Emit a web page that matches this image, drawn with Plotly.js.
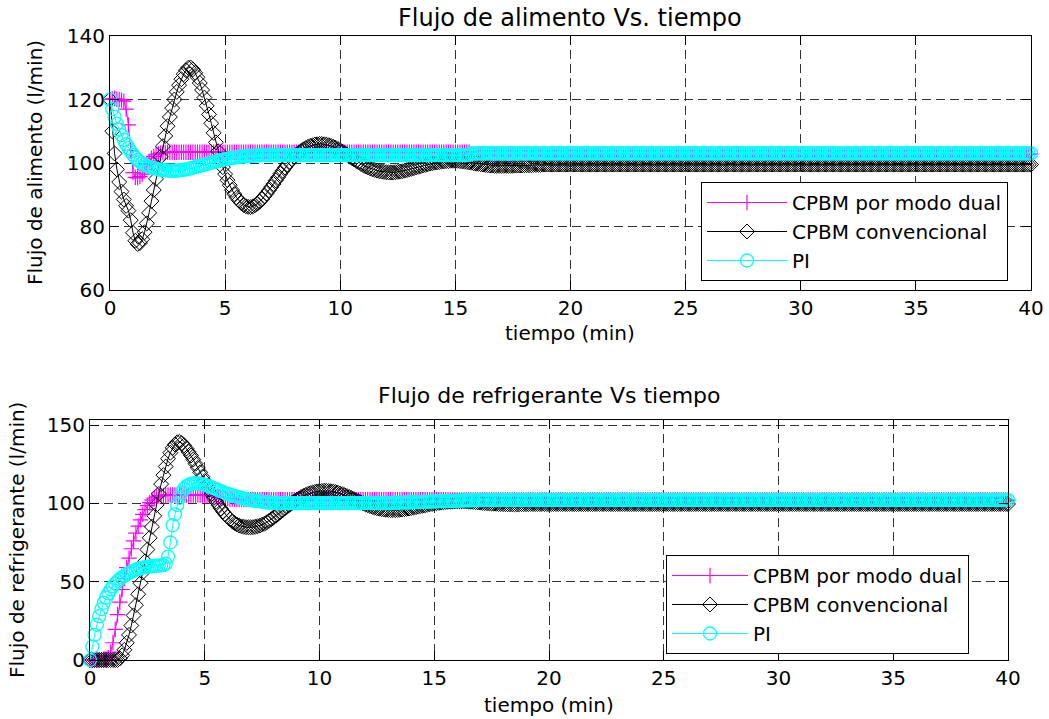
<!DOCTYPE html>
<html>
<head>
<meta charset="utf-8">
<script src="https://cdn.plot.ly/plotly-3.0.1.min.js"></script>
<style>html,body{margin:0;padding:0;background:#fff;}#chart{width:1049px;height:719px;}</style>
</head>
<body>
<div id="chart"></div>
<script>
// time samples (min)
const tiempo = [
0,0.1,0.2,0.3,0.4,0.5,0.6,0.7,0.8,0.9,
1,1.1,1.2,1.3,1.4,1.5,1.6,1.7,1.8,1.9,
2,2.1,2.2,2.3,2.4,2.5,2.6,2.7,2.8,2.9,
3,3.1,3.2,3.3,3.4,3.5,3.6,3.7,3.8,3.9,
4,4.1,4.2,4.3,4.4,4.5,4.6,4.7,4.8,4.9,
5,5.1,5.2,5.3,5.4,5.5,5.6,5.7,5.8,5.9,
6,6.1,6.2,6.3,6.4,6.5,6.6,6.7,6.8,6.9,
7,7.1,7.2,7.3,7.4,7.5,7.6,7.7,7.8,7.9,
8,8.1,8.2,8.3,8.4,8.5,8.6,8.7,8.8,8.9,
9,9.1,9.2,9.3,9.4,9.5,9.6,9.7,9.8,9.9,
10,10.1,10.2,10.3,10.4,10.5,10.6,10.7,10.8,10.9,
11,11.1,11.2,11.3,11.4,11.5,11.6,11.7,11.8,11.9,
12,12.1,12.2,12.3,12.4,12.5,12.6,12.7,12.8,12.9,
13,13.1,13.2,13.3,13.4,13.5,13.6,13.7,13.8,13.9,
14,14.1,14.2,14.3,14.4,14.5,14.6,14.7,14.8,14.9,
15,15.1,15.2,15.3,15.4,15.5,15.6,15.7,15.8,15.9,
16,16.1,16.2,16.3,16.4,16.5,16.6,16.7,16.8,16.9,
17,17.1,17.2,17.3,17.4,17.5,17.6,17.7,17.8,17.9,
18,18.1,18.2,18.3,18.4,18.5,18.6,18.7,18.8,18.9,
19,19.1,19.2,19.3,19.4,19.5,19.6,19.7,19.8,19.9,
20,20.1,20.2,20.3,20.4,20.5,20.6,20.7,20.8,20.9,
21,21.1,21.2,21.3,21.4,21.5,21.6,21.7,21.8,21.9,
22,22.1,22.2,22.3,22.4,22.5,22.6,22.7,22.8,22.9,
23,23.1,23.2,23.3,23.4,23.5,23.6,23.7,23.8,23.9,
24,24.1,24.2,24.3,24.4,24.5,24.6,24.7,24.8,24.9,
25,25.1,25.2,25.3,25.4,25.5,25.6,25.7,25.8,25.9,
26,26.1,26.2,26.3,26.4,26.5,26.6,26.7,26.8,26.9,
27,27.1,27.2,27.3,27.4,27.5,27.6,27.7,27.8,27.9,
28,28.1,28.2,28.3,28.4,28.5,28.6,28.7,28.8,28.9,
29,29.1,29.2,29.3,29.4,29.5,29.6,29.7,29.8,29.9,
30,30.1,30.2,30.3,30.4,30.5,30.6,30.7,30.8,30.9,
31,31.1,31.2,31.3,31.4,31.5,31.6,31.7,31.8,31.9,
32,32.1,32.2,32.3,32.4,32.5,32.6,32.7,32.8,32.9,
33,33.1,33.2,33.3,33.4,33.5,33.6,33.7,33.8,33.9,
34,34.1,34.2,34.3,34.4,34.5,34.6,34.7,34.8,34.9,
35,35.1,35.2,35.3,35.4,35.5,35.6,35.7,35.8,35.9,
36,36.1,36.2,36.3,36.4,36.5,36.6,36.7,36.8,36.9,
37,37.1,37.2,37.3,37.4,37.5,37.6,37.7,37.8,37.9,
38,38.1,38.2,38.3,38.4,38.5,38.6,38.7,38.8,38.9,
39,39.1,39.2,39.3,39.4,39.5,39.6,39.7,39.8,39.9,
40];

// Flujo de alimento (l/min)
const alimDual = [
120,120.2,120.3,120.1,120,119.8,119.5,117,112,104,
97,95.5,95.3,95.7,96.5,97.9,99.5,100.6,101.5,102.1,
102.6,102.9,103.1,103.2,103.3,103.4,103.4,103.4,103.4,103.4,
103.4,103.4,103.4,103.4,103.4,103.4,103.4,103.4,103.4,103.4,
103.4,103.4,103.4,103.4,103.4,103.4,103.4,103.4,103.4,103.4,
103.4,103.4,103.4,103.4,103.4,103.4,103.4,103.4,103.4,103.4,
103.4,103.4,103.4,103.4,103.4,103.4,103.4,103.4,103.4,103.4,
103.4,103.4,103.4,103.4,103.4,103.4,103.4,103.4,103.4,103.4,
103.4,103.4,103.4,103.4,103.4,103.4,103.4,103.4,103.4,103.4,
103.4,103.4,103.4,103.4,103.4,103.4,103.4,103.4,103.4,103.4,
103.4,103.4,103.4,103.4,103.4,103.4,103.4,103.4,103.4,103.4,
103.4,103.4,103.4,103.4,103.4,103.4,103.4,103.4,103.4,103.4,
103.4,103.4,103.4,103.4,103.4,103.4,103.4,103.4,103.4,103.4,
103.4,103.4,103.4,103.4,103.4,103.4,103.4,103.4,103.4,103.4,
103.4,103.4,103.4,103.4,103.4,103.4,103.4,103.4,103.4,103.4,
103.4,103.4,103.4,103.4,103.4,103.4,103.4,102.8,102.8,102.8,
102.8,102.8,102.8,102.8,102.8,102.8,102.8,102.8,102.8,102.8,
102.8,102.8,102.8,102.8,102.8,102.8,102.8,102.8,102.8,102.8,
102.8,102.8,102.8,102.8,102.8,102.8,102.8,102.8,102.8,102.8,
102.8,102.8,102.8,102.8,102.8,102.8,102.8,102.8,102.8,102.8,
102.8,102.8,102.8,102.8,102.8,102.8,102.8,102.8,102.8,102.8,
102.8,102.8,102.8,102.8,102.8,102.8,102.8,102.8,102.8,102.8,
102.8,102.8,102.8,102.8,102.8,102.8,102.8,102.8,102.8,102.8,
102.8,102.8,102.8,102.8,102.8,102.8,102.8,102.8,102.8,102.8,
102.8,102.8,102.8,102.8,102.8,102.8,102.8,102.8,102.8,102.8,
102.8,102.8,102.8,102.8,102.8,102.8,102.8,102.8,102.8,102.8,
102.8,102.8,102.8,102.8,102.8,102.8,102.8,102.8,102.8,102.8,
102.8,102.8,102.8,102.8,102.8,102.8,102.8,102.8,102.8,102.8,
102.8,102.8,102.8,102.8,102.8,102.8,102.8,102.8,102.8,102.8,
102.8,102.8,102.8,102.8,102.8,102.8,102.8,102.8,102.8,102.8,
102.8,102.8,102.8,102.8,102.8,102.8,102.8,102.8,102.8,102.8,
102.8,102.8,102.8,102.8,102.8,102.8,102.8,102.8,102.8,102.8,
102.8,102.8,102.8,102.8,102.8,102.8,102.8,102.8,102.8,102.8,
102.8,102.8,102.8,102.8,102.8,102.8,102.8,102.8,102.8,102.8,
102.8,102.8,102.8,102.8,102.8,102.8,102.8,102.8,102.8,102.8,
102.8,102.8,102.8,102.8,102.8,102.8,102.8,102.8,102.8,102.8,
102.8,102.8,102.8,102.8,102.8,102.8,102.8,102.8,102.8,102.8,
102.8,102.8,102.8,102.8,102.8,102.8,102.8,102.8,102.8,102.8,
102.8,102.8,102.8,102.8,102.8,102.8,102.8,102.8,102.8,102.8,
102.8,102.8,102.8,102.8,102.8,102.8,102.8,102.8,102.8,102.8,
102.8];

const alimConv = [
120,110,103,98,94,91,88.5,86.5,85,82,
78,75.5,74.5,74.8,76,78.2,81,84.3,88,91.5,
95,98.5,102,105.3,108.5,111.6,114.5,117.3,120,122.4,
124.5,126.4,128,129.2,130,130.1,129.5,128.4,127,125.2,
123,120.6,118,115.3,112.5,109.5,106.5,103.7,101,98.7,
96.5,94.6,93,91.5,90.2,89.1,88.2,87.4,86.8,86.4,
86.2,86.1,86.3,86.7,87.2,87.8,88.6,89.5,90.4,91.4,
92.4,93.4,94.5,95.5,96.6,97.6,98.6,99.5,100.4,101.2,
102,102.7,103.3,103.8,104.3,104.7,105.1,105.4,105.6,105.8,
105.9,106,106,105.9,105.8,105.6,105.4,105.1,104.8,104.4,
104,103.6,103.1,102.6,102.1,101.6,101.1,100.6,100.2,99.7,
99.3,98.9,98.6,98.3,98,97.8,97.6,97.4,97.3,97.2,
97.1,97,97,97,97.1,97.2,97.3,97.4,97.6,97.8,
98,98.2,98.4,98.6,98.8,99,99.2,99.4,99.6,99.8,
99.9,100.1,100.2,100.3,100.4,100.5,100.6,100.6,100.7,100.7,
100.7,100.7,100.6,100.5,100.4,100.3,100.2,100.1,99.9,99.8,
99.7,99.6,99.5,99.4,99.3,99.2,99.2,99.1,99.1,99.1,
99.1,99.1,99.1,99.1,99.1,99.1,99.2,99.2,99.2,99.2,
99.3,99.3,99.3,99.3,99.4,99.4,99.4,99.4,99.5,99.5,
99.5,99.5,99.5,99.5,99.5,99.5,99.5,99.5,99.5,99.5,
99.5,99.5,99.5,99.5,99.5,99.5,99.5,99.5,99.5,99.5,
99.5,99.5,99.5,99.5,99.5,99.5,99.5,99.5,99.5,99.5,
99.5,99.5,99.5,99.5,99.5,99.5,99.5,99.5,99.5,99.5,
99.5,99.5,99.5,99.5,99.5,99.5,99.5,99.5,99.5,99.5,
99.5,99.5,99.5,99.5,99.5,99.5,99.5,99.5,99.5,99.5,
99.5,99.5,99.5,99.5,99.5,99.5,99.5,99.5,99.5,99.5,
99.5,99.5,99.5,99.5,99.5,99.5,99.5,99.5,99.5,99.5,
99.5,99.5,99.5,99.5,99.5,99.5,99.5,99.5,99.5,99.5,
99.5,99.5,99.5,99.5,99.5,99.5,99.5,99.5,99.5,99.5,
99.5,99.5,99.5,99.5,99.5,99.5,99.5,99.5,99.5,99.5,
99.5,99.5,99.5,99.5,99.5,99.5,99.5,99.5,99.5,99.5,
99.5,99.5,99.5,99.5,99.5,99.5,99.5,99.5,99.5,99.5,
99.5,99.5,99.5,99.5,99.5,99.5,99.5,99.5,99.5,99.5,
99.5,99.5,99.5,99.5,99.5,99.5,99.5,99.5,99.5,99.5,
99.5,99.5,99.5,99.5,99.5,99.5,99.5,99.5,99.5,99.5,
99.5,99.5,99.5,99.5,99.5,99.5,99.5,99.5,99.5,99.5,
99.5,99.5,99.5,99.5,99.5,99.5,99.5,99.5,99.5,99.5,
99.5,99.5,99.5,99.5,99.5,99.5,99.5,99.5,99.5,99.5,
99.5,99.5,99.5,99.5,99.5,99.5,99.5,99.5,99.5,99.5,
99.5,99.5,99.5,99.5,99.5,99.5,99.5,99.5,99.5,99.5,
99.5];

const alimPI = [
120,117,114.5,112.3,110.5,108.8,107.3,105.9,104.7,103.6,
102.6,101.7,101,100.4,99.9,99.5,99.1,98.8,98.6,98.4,
98.2,98,97.9,97.8,97.7,97.6,97.6,97.6,97.6,97.6,
97.7,97.8,97.9,98,98.2,98.3,98.5,98.7,98.9,99.1,
99.3,99.5,99.7,99.9,100.1,100.3,100.5,100.7,100.9,101,
101.2,101.3,101.5,101.6,101.7,101.8,101.9,102,102.1,102.1,
102.2,102.2,102.3,102.3,102.4,102.4,102.5,102.5,102.5,102.5,
102.5,102.5,102.5,102.5,102.5,102.5,102.5,102.5,102.5,102.5,
102.5,102.5,102.5,102.5,102.5,102.5,102.5,102.5,102.5,102.5,
102.5,102.5,102.5,102.5,102.5,102.5,102.5,102.5,102.5,102.5,
102.5,102.5,102.5,102.5,102.5,102.5,102.5,102.5,102.5,102.5,
102.5,102.5,102.5,102.5,102.5,102.5,102.5,102.5,102.5,102.5,
102.5,102.5,102.5,102.5,102.5,102.5,102.5,102.5,102.5,102.5,
102.5,102.5,102.5,102.5,102.5,102.5,102.5,102.5,102.5,102.5,
102.5,102.5,102.5,102.5,102.5,102.5,102.5,102.5,102.5,102.5,
102.5,102.5,102.5,102.5,102.5,102.5,102.5,103,103,103,
103,103,103,103,103,103,103,103,103,103,
103,103,103,103,103,103,103,103,103,103,
103,103,103,103,103,103,103,103,103,103,
103,103,103,103,103,103,103,103,103,103,
103,103,103,103,103,103,103,103,103,103,
103,103,103,103,103,103,103,103,103,103,
103,103,103,103,103,103,103,103,103,103,
103,103,103,103,103,103,103,103,103,103,
103,103,103,103,103,103,103,103,103,103,
103,103,103,103,103,103,103,103,103,103,
103,103,103,103,103,103,103,103,103,103,
103,103,103,103,103,103,103,103,103,103,
103,103,103,103,103,103,103,103,103,103,
103,103,103,103,103,103,103,103,103,103,
103,103,103,103,103,103,103,103,103,103,
103,103,103,103,103,103,103,103,103,103,
103,103,103,103,103,103,103,103,103,103,
103,103,103,103,103,103,103,103,103,103,
103,103,103,103,103,103,103,103,103,103,
103,103,103,103,103,103,103,103,103,103,
103,103,103,103,103,103,103,103,103,103,
103,103,103,103,103,103,103,103,103,103,
103,103,103,103,103,103,103,103,103,103,
103,103,103,103,103,103,103,103,103,103,
103];

// Flujo de refrigerante (l/min)
const refrDual = [
0,0,0,0,0,0,0,0,1.5,5,
11,19.5,29,37,45,52,59,65,71,76,
81,85.5,89.5,93,96,98.5,100.5,102,103.3,104.1,
104.6,104.9,105.1,105.2,105.3,105.3,105.3,105.3,105.3,105.3,
105.3,105.3,105.3,105.3,105.3,105.3,105.3,105.3,105.3,105.3,
105.1,105,104.8,104.6,104.4,104.2,103.9,103.7,103.4,103.2,
103,102.8,102.7,102.6,102.5,102.4,102.4,102.4,102.4,102.4,
102.4,102.4,102.4,102.4,102.4,102.4,102.4,102.4,102.4,102.4,
102.4,102.4,102.4,102.4,102.4,102.4,102.4,102.4,102.4,102.4,
102.4,102.4,102.4,102.4,102.4,102.4,102.4,102.4,102.4,102.4,
102.4,102.4,102.4,102.4,102.4,102.4,102.4,102.4,102.4,102.4,
102.4,102.4,102.4,102.4,102.4,102.4,102.4,102.4,102.4,102.4,
102.4,102.4,102.4,102.4,102.4,102.4,102.4,102.4,102.4,102.4,
102.4,102.4,102.4,102.4,102.4,102.4,102.4,102.4,102.4,102.4,
102.4,102.4,102.4,102.4,102.4,102.4,102.4,102.4,102.4,102.4,
102.4,102.4,102.4,102.4,102.4,102.4,102.1,102.1,102.1,102.1,
102.1,102.1,102.1,102.1,102.1,102.1,102.1,102.1,102.1,102.1,
102.1,102.1,102.1,102.1,102.1,102.1,102.1,102.1,102.1,102.1,
102.1,102.1,102.1,102.1,102.1,102.1,102.1,102.1,102.1,102.1,
102.1,102.1,102.1,102.1,102.1,102.1,102.1,102.1,102.1,102.1,
102.1,102.1,102.1,102.1,102.1,102.1,102.1,102.1,102.1,102.1,
102.1,102.1,102.1,102.1,102.1,102.1,102.1,102.1,102.1,102.1,
102.1,102.1,102.1,102.1,102.1,102.1,102.1,102.1,102.1,102.1,
102.1,102.1,102.1,102.1,102.1,102.1,102.1,102.1,102.1,102.1,
102.1,102.1,102.1,102.1,102.1,102.1,102.1,102.1,102.1,102.1,
102.1,102.1,102.1,102.1,102.1,102.1,102.1,102.1,102.1,102.1,
102.1,102.1,102.1,102.1,102.1,102.1,102.1,102.1,102.1,102.1,
102.1,102.1,102.1,102.1,102.1,102.1,102.1,102.1,102.1,102.1,
102.1,102.1,102.1,102.1,102.1,102.1,102.1,102.1,102.1,102.1,
102.1,102.1,102.1,102.1,102.1,102.1,102.1,102.1,102.1,102.1,
102.1,102.1,102.1,102.1,102.1,102.1,102.1,102.1,102.1,102.1,
102.1,102.1,102.1,102.1,102.1,102.1,102.1,102.1,102.1,102.1,
102.1,102.1,102.1,102.1,102.1,102.1,102.1,102.1,102.1,102.1,
102.1,102.1,102.1,102.1,102.1,102.1,102.1,102.1,102.1,102.1,
102.1,102.1,102.1,102.1,102.1,102.1,102.1,102.1,102.1,102.1,
102.1,102.1,102.1,102.1,102.1,102.1,102.1,102.1,102.1,102.1,
102.1,102.1,102.1,102.1,102.1,102.1,102.1,102.1,102.1,102.1,
102.1,102.1,102.1,102.1,102.1,102.1,102.1,102.1,102.1,102.1,
102.1,102.1,102.1,102.1,102.1,102.1,102.1,102.1,102.1,102.1,
102.1,102.1,102.1,102.1,102.1,102.1,102.1,102.1,102.1,102.1,
102.1];

const refrConv = [
0,0,0,0,0,0,0,0,0,0,
0,0,0,1,3,6.5,11,16,22,28.5,
35,42,49,56,63,70.5,78,85,92,99,
106,112.3,118,123.5,128.5,132.3,135.5,137.6,139,139.3,
138.5,137,135,132.8,130.5,128,125.3,122.6,119.8,117,
114.2,111.4,108.7,106,103.5,101.1,98.8,96.7,94.7,92.9,
91.2,89.8,88.5,87.4,86.5,85.8,85.3,85,84.8,84.7,
84.7,84.8,85,85.4,85.8,86.4,87,87.9,88.8,89.9,
91,92.1,93.3,94.5,95.7,96.9,98,99.1,100.2,101.2,
102.2,103.1,104,104.7,105.4,106,106.5,106.9,107.3,107.6,
107.8,107.9,108,108,107.9,107.7,107.5,107.2,106.8,106.3,
105.8,105.2,104.6,104,103.3,102.7,102,101.3,100.7,100,
99.4,98.8,98.3,97.8,97.3,96.9,96.6,96.3,96.1,95.9,
95.8,95.7,95.7,95.7,95.8,95.9,96.1,96.3,96.5,96.7,
97,97.3,97.6,97.9,98.2,98.5,98.8,99.1,99.4,99.6,
99.9,100.1,100.3,100.5,100.7,100.9,101,101.1,101.2,101.3,
101.3,101.3,101.3,101.3,101.2,101.1,101,100.9,100.8,100.6,
100.5,100.3,100.2,100.1,100,99.9,99.8,99.7,99.6,99.6,
99.5,99.5,99.4,99.4,99.4,99.4,99.4,99.4,99.5,99.5,
99.5,99.5,99.6,99.6,99.6,99.6,99.6,99.6,99.6,99.6,
99.6,99.6,99.6,99.6,99.6,99.6,99.6,99.6,99.6,99.6,
99.6,99.6,99.6,99.6,99.6,99.6,99.6,99.6,99.6,99.6,
99.6,99.6,99.6,99.6,99.6,99.6,99.6,99.6,99.6,99.6,
99.6,99.6,99.6,99.6,99.6,99.6,99.6,99.6,99.6,99.6,
99.6,99.6,99.6,99.6,99.6,99.6,99.6,99.6,99.6,99.6,
99.6,99.6,99.6,99.6,99.6,99.6,99.6,99.6,99.6,99.6,
99.6,99.6,99.6,99.6,99.6,99.6,99.6,99.6,99.6,99.6,
99.6,99.6,99.6,99.6,99.6,99.6,99.6,99.6,99.6,99.6,
99.6,99.6,99.6,99.6,99.6,99.6,99.6,99.6,99.6,99.6,
99.6,99.6,99.6,99.6,99.6,99.6,99.6,99.6,99.6,99.6,
99.6,99.6,99.6,99.6,99.6,99.6,99.6,99.6,99.6,99.6,
99.6,99.6,99.6,99.6,99.6,99.6,99.6,99.6,99.6,99.6,
99.6,99.6,99.6,99.6,99.6,99.6,99.6,99.6,99.6,99.6,
99.6,99.6,99.6,99.6,99.6,99.6,99.6,99.6,99.6,99.6,
99.6,99.6,99.6,99.6,99.6,99.6,99.6,99.6,99.6,99.6,
99.6,99.6,99.6,99.6,99.6,99.6,99.6,99.6,99.6,99.6,
99.6,99.6,99.6,99.6,99.6,99.6,99.6,99.6,99.6,99.6,
99.6,99.6,99.6,99.6,99.6,99.6,99.6,99.6,99.6,99.6,
99.6,99.6,99.6,99.6,99.6,99.6,99.6,99.6,99.6,99.6,
99.6,99.6,99.6,99.6,99.6,99.6,99.6,99.6,99.6,99.6,
99.6];

const refrPI = [
0,8.5,16,22.5,28,32.5,36.5,39.8,42.5,45,
47,48.8,50.3,51.6,52.8,53.8,54.8,55.6,56.3,57,
57.6,58.1,58.6,59,59.3,59.6,59.8,60,60.1,60.2,
60.3,60.4,60.5,61.5,66,75,86,93,99,103.5,
107,109.2,110.8,111.8,112.4,112.7,112.8,112.7,112.5,112.2,
111.8,111.3,110.8,110.2,109.6,109,108.4,107.8,107.2,106.6,
106.1,105.6,105.1,104.6,104.2,103.8,103.4,103,102.7,102.4,
102.1,101.8,101.6,101.4,101.2,101,100.8,100.6,100.5,100.4,
100.3,100.2,100.1,100.1,100.1,100.1,100.1,100.1,100.1,100.1,
100.1,100.1,100.1,100.1,100.1,100.1,100.1,100.1,100.1,100.1,
100.1,100.1,100.1,100.1,100.1,100.1,100.1,100.1,100.1,100.1,
100.1,100.1,100.1,100.1,100.1,100.1,100.2,100.2,100.2,100.2,
100.2,100.2,100.2,100.2,100.2,100.2,100.2,100.2,100.2,100.2,
100.2,100.2,100.3,100.3,100.4,100.4,100.5,100.5,100.6,100.6,
100.7,100.7,100.8,100.8,100.9,100.9,101,101,101.1,101.1,
101.2,101.2,101.3,101.3,101.4,101.4,101.5,101.5,101.6,101.6,
101.7,101.7,101.8,101.8,101.9,101.9,101.9,101.9,102,102,
102,102,102.1,102.1,102.1,102.1,102.1,102.1,102.1,102.1,
102.1,102.1,102.1,102.1,102.1,102.1,102.1,102.1,102.1,102.1,
102.1,102.1,102.1,102.1,102.1,102.1,102.1,102.1,102.1,102.1,
102.1,102.1,102.1,102.1,102.1,102.1,102.1,102.1,102.1,102.1,
102.1,102.1,102.1,102.1,102.1,102.1,102.1,102.1,102.1,102.1,
102.1,102.1,102.1,102.1,102.1,102.1,102.1,102.1,102.1,102.1,
102.1,102.1,102.1,102.1,102.1,102.1,102.1,102.1,102.1,102.1,
102.1,102.1,102.1,102.1,102.1,102.1,102.1,102.1,102.1,102.1,
102.1,102.1,102.1,102.1,102.1,102.1,102.1,102.1,102.1,102.1,
102.1,102.1,102.1,102.1,102.1,102.1,102.1,102.1,102.1,102.1,
102.1,102.1,102.1,102.1,102.1,102.1,102.1,102.1,102.1,102.1,
102.1,102.1,102.1,102.1,102.1,102.1,102.1,102.1,102.1,102.1,
102.1,102.1,102.1,102.1,102.1,102.1,102.1,102.1,102.1,102.1,
102.1,102.1,102.1,102.1,102.1,102.1,102.1,102.1,102.1,102.1,
102.1,102.1,102.1,102.1,102.1,102.1,102.1,102.1,102.1,102.1,
102.1,102.1,102.1,102.1,102.1,102.1,102.1,102.1,102.1,102.1,
102.1,102.1,102.1,102.1,102.1,102.1,102.1,102.1,102.1,102.1,
102.1,102.1,102.1,102.1,102.1,102.1,102.1,102.1,102.1,102.1,
102.1,102.1,102.1,102.1,102.1,102.1,102.1,102.1,102.1,102.1,
102.1,102.1,102.1,102.1,102.1,102.1,102.1,102.1,102.1,102.1,
102.1,102.1,102.1,102.1,102.1,102.1,102.1,102.1,102.1,102.1,
102.1,102.1,102.1,102.1,102.1,102.1,102.1,102.1,102.1,102.1,
102.1,102.1,102.1,102.1,102.1,102.1,102.1,102.1,102.1,102.1,
102.1];

const seriesNames = ["CPBM por modo dual", "CPBM convencional", "PI"];
const xTicks = [0,5,10,15,20,25,30,35,40];
const yTicksAlim = [60,80,100,120,140];
const yTicksRefr = [0,50,100,150];

const FONT = "DejaVu Sans";
const W = 1049, H = 719;
const px = v => v / W;
const py = v => 1 - v / H;

const styles = [
  {color:"#ff00ff", symbol:"cross-thin-open", size:11, lw:1.2},
  {color:"#000000", symbol:"diamond-open", size:11.5, lw:1},
  {color:"#00ffff", symbol:"circle-open", size:13, lw:1.3}
];

function mk(x, y, k, xa, ya, leg) {
  const s = styles[k];
  return {
    x: x, y: y, type: "scatter", mode: "lines+markers",
    name: seriesNames[k], xaxis: xa, yaxis: ya, legend: leg,
    cliponaxis: false,
    line: {color: s.color, width: 1},
    marker: {symbol: s.symbol, size: s.size, color: s.color, line: {color: s.color, width: s.lw}}
  };
}

const data = [
  mk(tiempo, alimDual, 0, "x", "y", "legend"),
  mk(tiempo, alimConv, 1, "x", "y", "legend"),
  mk(tiempo, alimPI, 2, "x", "y", "legend"),
  mk(tiempo, refrDual, 0, "x2", "y2", "legend2"),
  mk(tiempo, refrConv, 1, "x2", "y2", "legend2"),
  mk(tiempo, refrPI, 2, "x2", "y2", "legend2")
];

const axBase = {
  showline: true, linecolor: "black", linewidth: 1, mirror: "ticks",
  ticks: "inside", ticklen: 9, tickcolor: "black", tickwidth: 1,
  showgrid: true, gridcolor: "#333333", gridwidth: 1, griddash: "9px,5px",
  zeroline: false, tickfont: {family: FONT, size: 20, color: "black"},
  fixedrange: true
};

const layout = {
  width: W, height: H,
  margin: {l: 0, r: 0, t: 0, b: 0},
  paper_bgcolor: "white", plot_bgcolor: "white",
  font: {family: FONT, size: 20, color: "black"},
  showlegend: true,
  xaxis: Object.assign({}, axBase, {domain: [px(110), px(1031)], range: [0, 40], tickvals: xTicks, anchor: "y"}),
  yaxis: Object.assign({}, axBase, {domain: [py(290), py(36)], range: [60, 140], tickvals: yTicksAlim, anchor: "x"}),
  xaxis2: Object.assign({}, axBase, {domain: [px(90), px(1008)], range: [0, 40], tickvals: xTicks, anchor: "y2"}),
  yaxis2: Object.assign({}, axBase, {domain: [py(660), py(420)], range: [0, 153.2], tickvals: yTicksRefr, anchor: "x2"}),
  legend: {x: px(701), y: py(182), xanchor: "left", yanchor: "top", bgcolor: "white",
    bordercolor: "black", borderwidth: 1, font: {family: FONT, size: 20}, itemwidth: 80, tracegroupgap: 0},
  legend2: {x: px(666), y: py(555), xanchor: "left", yanchor: "top", bgcolor: "white",
    bordercolor: "black", borderwidth: 1, font: {family: FONT, size: 20}, itemwidth: 76, tracegroupgap: 0},
  annotations: [
    {text: "Flujo de alimento Vs. tiempo", x: px(570), y: py(18), xref: "paper", yref: "paper", xanchor: "center", yanchor: "middle", showarrow: false, font: {family: FONT, size: 24}},
    {text: "tiempo (min)", x: px(570), y: py(333), xref: "paper", yref: "paper", xanchor: "center", yanchor: "middle", showarrow: false, font: {family: FONT, size: 20}},
    {text: "Flujo de alimento (l/min)", x: px(35), y: py(163), xref: "paper", yref: "paper", xanchor: "center", yanchor: "middle", textangle: -90, showarrow: false, font: {family: FONT, size: 20}},
    {text: "Flujo de refrigerante Vs tiempo", x: px(549), y: py(395), xref: "paper", yref: "paper", xanchor: "center", yanchor: "middle", showarrow: false, font: {family: FONT, size: 22}},
    {text: "tiempo (min)", x: px(549), y: py(705), xref: "paper", yref: "paper", xanchor: "center", yanchor: "middle", showarrow: false, font: {family: FONT, size: 20}},
    {text: "Flujo de refrigerante (l/min)", x: px(17), y: py(540), xref: "paper", yref: "paper", xanchor: "center", yanchor: "middle", textangle: -90, showarrow: false, font: {family: FONT, size: 20}}
  ]
};

Plotly.newPlot("chart", data, layout, {displayModeBar: false, staticPlot: true});
</script>
</body>
</html>
